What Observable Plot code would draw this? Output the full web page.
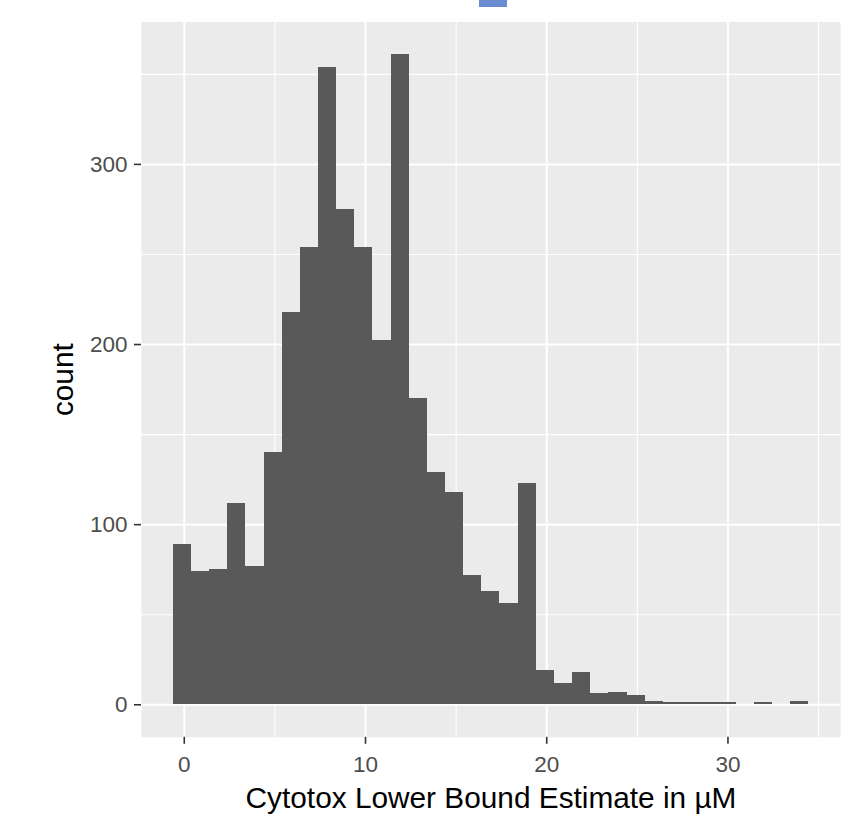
<!DOCTYPE html>
<html>
<head>
<meta charset="utf-8">
<script src="https://cdn.jsdelivr.net/npm/d3@7"></script>
<script src="https://cdn.jsdelivr.net/npm/@observablehq/plot@0.6"></script>
<style>
  html, body { margin: 0; padding: 0; background: #ffffff; }
  #wrap { position: relative; width: 842px; height: 821px; }
  #marker { position: absolute; left: 479px; top: 0px; width: 28px; height: 7px; background: #6b8bd0; }
</style>
</head>
<body>
<div id="wrap"><div id="marker"></div></div>
<script>
// Bin edges (µM) of the 35-bin histogram
const binEdges = [-0.61, 0.40, 1.40, 2.40, 3.40, 4.40, 5.40, 6.41, 7.41, 8.41, 9.41, 10.41, 11.41, 12.42,
  13.42, 14.42, 15.42, 16.42, 17.42, 18.43, 19.43, 20.43, 21.43, 22.43, 23.43, 24.44, 25.44, 26.44,
  27.44, 28.44, 29.44, 30.45, 31.45, 32.45, 33.45, 34.45];
// Counts in each bin
const counts = [89, 74, 75, 112, 77, 140, 218, 254, 354, 275, 254, 202, 361, 170, 129, 118, 72, 63, 56, 123,
  19, 12, 18, 6, 7, 5, 2, 1, 1, 1, 1, 0, 1, 0, 2];
// Axis ticks and gridlines
const xMajor = [0, 10, 20, 30];
const xMinor = [5, 15, 25, 35];
const yMajor = [0, 100, 200, 300];
const yMinor = [50, 150, 250, 350];
const xTitle = "Cytotox Lower Bound Estimate in µM";
const yTitle = "count";

const bins = counts.map((c, i) => ({lo: binEdges[i], hi: binEdges[i + 1], count: c}));

const plot = Plot.plot({
  width: 842,
  height: 821,
  marginLeft: 141,
  marginRight: 2,
  marginTop: 21.5,
  marginBottom: 84.2,
  style: {fontFamily: "'Liberation Sans', Arial, sans-serif", background: "transparent"},
  x: {domain: [-2.36, 36.21], axis: null},
  y: {domain: [-18.05, 379.05], axis: null},
  marks: [
    Plot.frame({fill: "#ebebeb", stroke: null}),
    Plot.ruleX(xMinor, {stroke: "#ffffff", strokeWidth: 1.1}),
    Plot.ruleY(yMinor, {stroke: "#ffffff", strokeWidth: 1.1}),
    Plot.ruleX(xMajor, {stroke: "#ffffff", strokeWidth: 2}),
    Plot.ruleY(yMajor, {stroke: "#ffffff", strokeWidth: 2}),
    Plot.rectY(bins, {x1: "lo", x2: "hi", y: "count", fill: "#595959", inset: 0, shapeRendering: "crispEdges"}),
    Plot.axisX(xMajor, {anchor: "bottom", tickSize: 7, tickPadding: 12, stroke: "#333333", strokeWidth: 1.6,
      fill: "#4d4d4d", fontSize: 22.5, label: null}),
    Plot.axisY(yMajor, {anchor: "left", tickSize: 7, tickPadding: 7, stroke: "#333333", strokeWidth: 1.6,
      fill: "#4d4d4d", fontSize: 22.5, label: null}),
    Plot.text([xTitle], {frameAnchor: "bottom", dy: 71, lineAnchor: "bottom", textAnchor: "middle", fontSize: 29.8, fill: "#000000"}),
    Plot.text([yTitle], {frameAnchor: "left", dx: -78, rotate: -90, lineAnchor: "middle", textAnchor: "middle", fontSize: 29.8, fill: "#000000"})
  ]
});
plot.style.position = "absolute";
plot.style.left = "0px";
plot.style.top = "0px";
const wrap = document.getElementById("wrap");
wrap.insertBefore(plot, wrap.firstChild);
</script>
</body>
</html>
